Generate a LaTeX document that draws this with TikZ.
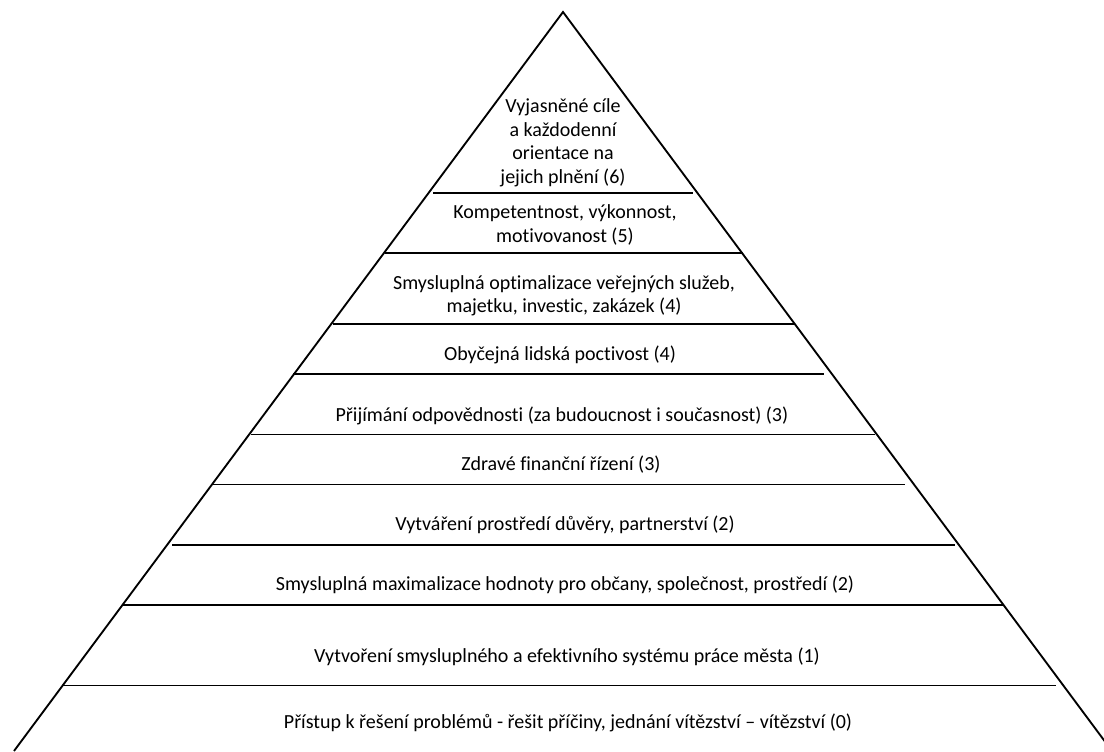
\documentclass[tikz,border=0pt]{standalone}
\usepackage{fontspec}
\setmainfont{Carlito}[Ligatures=NoCommon]
\begin{document}
\begin{tikzpicture}[x=0.75pt,y=-0.75pt,
  edge/.style={line width=1.4pt, black},
  lbl/.style={font=\fontsize{15}{18}\selectfont, anchor=base, inner sep=0pt}]
\useasboundingbox (0,0) rectangle (1104,751);
\begin{scope}
\clip (0,0) rectangle (1104,751);
\coordinate (apex) at (563,12);
\coordinate (bl) at (14,751);
\coordinate (br) at (1112,751);
\draw[edge, line join=miter] (bl) -- (apex) -- (br);
\end{scope}
% tier lines
\draw[edge] (433,192.7) coordinate (l1a) -- (693,192.7) coordinate (l1b);
\draw[edge] (385,253) coordinate (l2a) -- (743,253) coordinate (l2b);
\draw[edge] (333,324) coordinate (l3a) -- (794,324) coordinate (l3b);
\draw[edge] (293,374) coordinate (l4a) -- (824,374) coordinate (l4b);
\draw[edge] (251,434.5) coordinate (l5a) -- (875,434.5) coordinate (l5b);
\draw[edge] (213,484.5) coordinate (l6a) -- (905,484.5) coordinate (l6b);
\draw[edge] (172,545) coordinate (l7a) -- (955,545) coordinate (l7b);
\draw[edge] (122,605) coordinate (l8a) -- (1004,605) coordinate (l8b);
\draw[edge] (62,685.5) coordinate (l9a) -- (1056,685.5) coordinate (l9b);
% labels
\node[lbl] (t6a) at (563,112.5) {Vyjasněné cíle};
\node[lbl] (t6b) at (563,136) {a každodenní};
\node[lbl] (t6c) at (563,159.5) {orientace na};
\node[lbl] (t6d) at (563,183) {jejich plnění (6)};
\node[lbl] (t5a) at (565,218) {Kompetentnost, výkonnost,};
\node[lbl] (t5b) at (565,242) {motivovanost (5)};
\node[lbl] (t4a) at (564,289) {Smysluplná optimalizace veřejných služeb,};
\node[lbl] (t4b) at (564,312) {majetku, investic, zakázek (4)};
\node[lbl] (t4c) at (560,360) {Obyčejná lidská poctivost (4)};
\node[lbl] (t3a) at (562,421) {Přijímání odpovědnosti (za budoucnost i současnost) (3)};
\node[lbl] (t3b) at (561,470) {Zdravé finanční řízení (3)};
\node[lbl] (t2a) at (565,530) {Vytváření prostředí důvěry, partnerství (2)};
\node[lbl] (t2b) at (565,590) {Smysluplná maximalizace hodnoty pro občany, společnost, prostředí (2)};
\node[lbl] (t1) at (567,662) {Vytvoření smysluplného a efektivního systému práce města (1)};
\node[lbl] (t0) at (568,728) {Přístup k řešení problémů - řešit příčiny, jednání vítězství – vítězství (0)};
\end{tikzpicture}
\end{document}
